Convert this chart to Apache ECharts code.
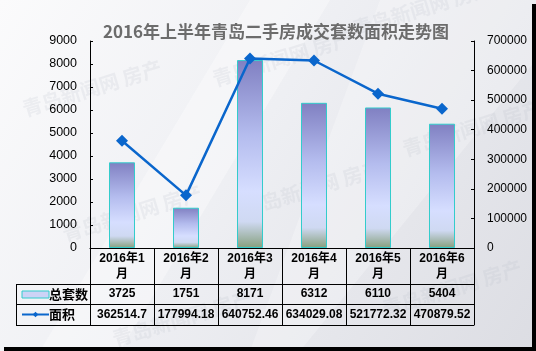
<!DOCTYPE html>
<html>
<head>
<meta charset="utf-8">
<script src="https://cdn.jsdelivr.net/npm/echarts@6/dist/echarts.min.js"></script>
<style>
  html, body { margin: 0; padding: 0; }
  #chart { width: 536px; height: 351px; }
</style>
</head>
<body>
<div id="chart"></div>
<script>
// data
const categories = ['2016年1月', '2016年2月', '2016年3月', '2016年4月', '2016年5月', '2016年6月']
const countLabels = ['3725', '1751', '8171', '6312', '6110', '5404']
const counts = [3725, 1751, 8171, 6312, 6110, 5404]
const areaLabels = ['362514.7', '177994.18', '640752.46', '634029.08', '521772.32', '470879.52']
const areas = [362514.7, 177994.18, 640752.46, 634029.08, 521772.32, 470879.52]
const seriesNames = ['总套数', '面积']

// layout
const W = 536, H = 351
const GRID_LEFT = 90, GRID_RIGHT = 474, GRID_TOP = 41, GRID_BOTTOM = 248
const ROW1 = 36, ROW2 = 56, ROW3 = 77   // table row lines below the plot
const TABLE_LEFT = 16

const font = "'Liberation Sans', Arial, 'Noto Sans CJK SC', sans-serif"
const black = '#000'

const barColor = new echarts.graphic.LinearGradient(0, 0, 0, 1, [
  { offset: 0, color: '#8080c2' },
  { offset: 0.4, color: '#b4bcee' },
  { offset: 0.7, color: '#d6deff' },
  { offset: 0.86, color: '#cfd9f2' },
  { offset: 1, color: '#86a07e' }
])

const tableAxis = (offset, labels, margin) => ({
  type: 'category',
  position: 'bottom',
  offset: offset,
  data: labels || categories,
  axisLine: { show: true, onZero: false, lineStyle: { color: black, width: 1 } },
  axisTick: { show: false },
  axisLabel: {
    show: !!labels,
    interval: 0,
    margin: margin,
    color: black,
    fontFamily: font,
    fontWeight: 'bold',
    fontSize: 12,
    lineHeight: 14
  }
})

const chart = echarts.init(document.getElementById('chart'), null, { renderer: 'canvas' })

const tableY = (o) => GRID_BOTTOM + o + 0.5

chart.setOption({
  backgroundColor: new echarts.graphic.LinearGradient(0, 0, 1, 1, [
    { offset: 0, color: '#fbfbfc' },
    { offset: 0.45, color: '#eeeff3' },
    { offset: 1, color: '#dcdde3' }
  ]),
  title: {
    text: '2016年上半年青岛二手房成交套数面积走势图',
    left: 98,
    top: 18,
    textStyle: {
      color: '#6c6c6c',
      fontFamily: "'Noto Sans CJK SC', sans-serif",
      fontWeight: 'bold',
      fontSize: 17
    }
  },
  legend: {
    orient: 'vertical',
    left: 21,
    top: GRID_BOTTOM + ROW1 + 3,
    padding: 0,
    itemWidth: 27,
    itemHeight: 7,
    itemGap: 5,
    textStyle: { color: black, fontFamily: "'Noto Sans CJK SC', sans-serif", fontWeight: 'bold', fontSize: 13, lineHeight: 15, padding: [0, 0, 0, -5] },
    data: [
      { name: seriesNames[0], icon: 'rect', itemStyle: { color: '#cdd3f6', borderColor: '#33cccc', borderWidth: 1 } },
      { name: seriesNames[1] }
    ]
  },
  grid: {
    left: GRID_LEFT,
    right: W - GRID_RIGHT,
    top: GRID_TOP,
    bottom: H - GRID_BOTTOM,
    containLabel: false
  },
  xAxis: [
    {
      type: 'category',
      position: 'bottom',
      data: categories,
      axisLine: { show: true, onZero: false, lineStyle: { color: black, width: 1 } },
      axisTick: { show: true, interval: 0, length: ROW3, lineStyle: { color: black } },
      axisLabel: {
        interval: 0,
        margin: 3,
        color: black,
        fontFamily: font,
        fontWeight: 'bold',
        fontSize: 12,
        lineHeight: 16,
        formatter: (v) => v.slice(0, -1) + '\n' + v.slice(-1)
      }
    },
    tableAxis(ROW1, countLabels, 3),
    tableAxis(ROW2, areaLabels, 4),
    tableAxis(ROW3, null, 3)
  ],
  yAxis: [
    {
      type: 'value',
      min: 0,
      max: 9000,
      interval: 1000,
      axisLine: { show: true, lineStyle: { color: black } },
      axisTick: { show: true, inside: true, length: 3, lineStyle: { color: black } },
      splitLine: { show: false },
      axisLabel: { color: black, fontFamily: font, fontSize: 12.5, margin: 13, formatter: (v) => String(v) }
    },
    {
      type: 'value',
      min: 0,
      max: 700000,
      interval: 100000,
      position: 'right',
      axisLine: { show: true, lineStyle: { color: black } },
      axisTick: { show: true, inside: true, length: 3, lineStyle: { color: black } },
      splitLine: { show: false },
      axisLabel: { color: black, fontFamily: font, fontSize: 12, margin: 13, formatter: (v) => String(v) }
    }
  ],
  series: [
    {
      name: seriesNames[0],
      type: 'bar',
      xAxisIndex: 0,
      yAxisIndex: 0,
      barWidth: 26,
      itemStyle: { color: barColor, borderColor: '#33cccc', borderWidth: 1 },
      data: counts
    },
    {
      name: seriesNames[1],
      type: 'line',
      xAxisIndex: 0,
      yAxisIndex: 1,
      symbol: 'diamond',
      symbolSize: 12,
      lineStyle: { color: '#0a66cc', width: 2.5 },
      itemStyle: { color: '#0a66cc' },
      data: areas
    }
  ],
  graphic: [
    // soft white sweeps in the background
    {
      type: 'polygon', silent: true, z: -10,
      shape: { points: [[250, 0], [330, 0], [120, 351], [40, 351]] },
      style: { fill: 'rgba(255,255,255,0.35)' }
    },
    {
      type: 'polygon', silent: true, z: -10,
      shape: { points: [[380, 0], [536, 0], [536, 60], [300, 351], [250, 351]] },
      style: { fill: 'rgba(255,255,255,0.25)' }
    },
    // watermark
    ...[[20, 100], [210, 70], [350, 20], [60, 225], [240, 200], [400, 140], [380, 300], [110, 330]].map(([x, y]) => ({
      type: 'text', silent: true, z: -5, x: x, y: y, rotation: 0.3,
      style: { text: '青岛新闻网 房产', fill: 'rgba(185,188,200,0.18)', font: "bold 20px 'Noto Sans CJK SC'" }
    })),
    // left part of the data table
    ...[ROW1, ROW2, ROW3].map((o) => ({
      type: 'line', silent: true,
      shape: { x1: TABLE_LEFT, y1: tableY(o), x2: GRID_LEFT, y2: tableY(o) },
      style: { stroke: black, lineWidth: 1 }
    })),
    {
      type: 'line', silent: true,
      shape: { x1: TABLE_LEFT + 0.5, y1: tableY(ROW1), x2: TABLE_LEFT + 0.5, y2: tableY(ROW3) },
      style: { stroke: black, lineWidth: 1 }
    },
    // shadow frame
    { type: 'rect', silent: true, shape: { x: W - 4, y: 4, width: 4, height: H - 4 }, style: { fill: '#000' } },
    { type: 'rect', silent: true, shape: { x: 4, y: H - 4, width: W - 4, height: 4 }, style: { fill: '#000' } }
  ]
})
</script>
</body>
</html>
